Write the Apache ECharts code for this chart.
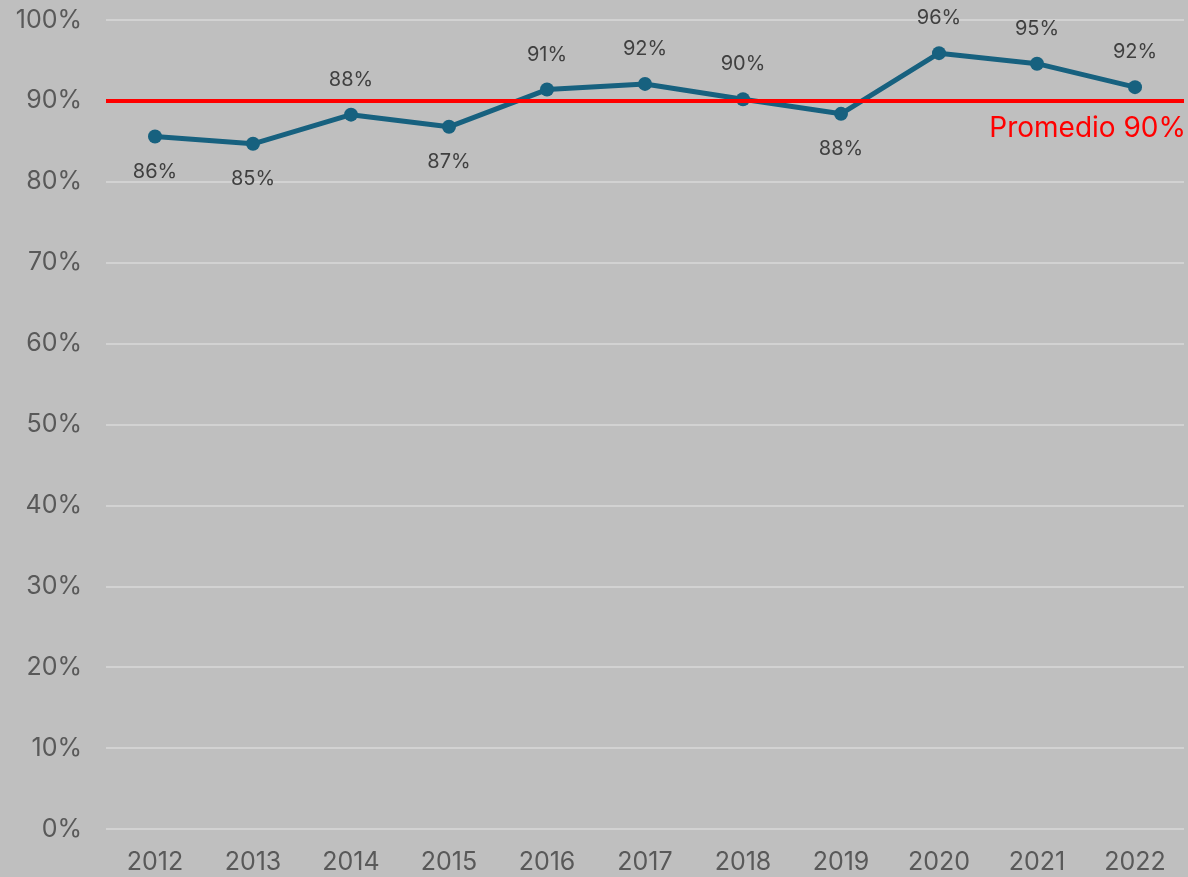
<!DOCTYPE html>
<html lang="es" style="height: 100%">
<head>
  <meta charset="utf-8">
</head>
<body style="height: 100%; margin: 0; background: #bfbfbf">
  <div id="container" style="width: 1188px; height: 877px"></div>

  <script type="text/javascript" src="https://cdn.jsdelivr.net/npm/echarts@6/dist/echarts.min.js"></script>

  <script type="text/javascript">
    var years = ['2012', '2013', '2014', '2015', '2016', '2017', '2018', '2019', '2020', '2021', '2022'];
    var values = [85.6, 84.7, 88.3, 86.8, 91.4, 92.1, 90.2, 88.4, 95.9, 94.6, 91.7];
    // where each label sits relative to its point
    var labelPos = ['bottom', 'bottom', 'top', 'bottom', 'top', 'top', 'top', 'bottom', 'top', 'top', 'top'];
    var promedio = 90;

    var myChart = echarts.init(document.getElementById('container'), null, { renderer: 'canvas' });

    var points = values.map(function (v, i) {
      return { value: v, label: { position: labelPos[i] } };
    });

    var option = {
      backgroundColor: '#bfbfbf',
      textStyle: { fontFamily: 'Inter, "Noto Sans", sans-serif' },
      grid: { left: 106, right: 4, top: 20, bottom: 48 },
      xAxis: {
        type: 'category',
        data: years,
        boundaryGap: true,
        axisLine: { show: false },
        axisTick: { show: false },
        axisLabel: { color: '#595959', fontSize: 25, margin: 21 }
      },
      yAxis: {
        type: 'value',
        min: 0,
        max: 100,
        interval: 10,
        axisLine: { show: false },
        axisTick: { show: false },
        axisLabel: { color: '#595959', fontSize: 25, margin: 24, formatter: '{value}%' },
        splitLine: { lineStyle: { color: '#d9d9d9', width: 1.5 } }
      },
      series: [{
        type: 'line',
        data: points,
        symbol: 'circle',
        symbolSize: 14,
        lineStyle: { color: '#17617f', width: 5 },
        itemStyle: { color: '#17617f' },
        label: {
          show: true,
          distance: 18,
          color: '#404040',
          fontSize: 20,
          formatter: function (p) { return Math.round(p.value) + '%'; }
        },
        markLine: {
          silent: true,
          symbol: 'none',
          lineStyle: { color: '#ff0000', width: 4, type: 'solid' },
          label: {
            position: 'insideEndBottom',
            formatter: 'Promedio ' + promedio + '%',
            color: '#ff0000',
            fontSize: 28,
            distance: [-2, 14]
          },
          data: [{ yAxis: promedio }]
        }
      }]
    };

    myChart.setOption(option);
    window.addEventListener('resize', myChart.resize);
  </script>
</body>
</html>
